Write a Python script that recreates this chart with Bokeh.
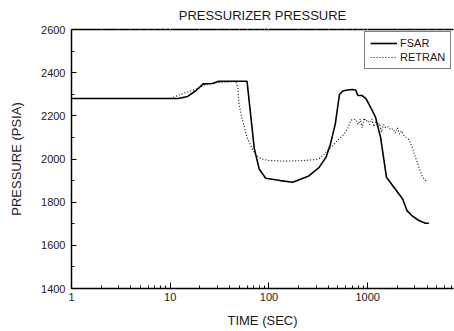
from bokeh.plotting import figure
from bokeh.models import (LogAxis, LogTicker, SingleIntervalTicker, Legend, LegendItem,
                          Range1d, ColumnDataSource, NumeralTickFormatter)
from bokeh.embed import file_html
from bokeh.resources import INLINE

# ---- data ----
fsar_t = [1, 12.1, 15, 18, 21.6, 27, 30.9, 45, 60, 71, 79.6, 92.6, 130, 174, 250, 321,
          380, 420, 470, 518, 560, 620, 700, 755, 795, 880, 960, 1025, 1200, 1350, 1550,
          2260, 2500, 2800, 3300, 3850, 4170]
fsar_p = [2280, 2280, 2290, 2315, 2348, 2350, 2360, 2360, 2360, 2049, 1954, 1911, 1900,
          1892, 1920, 1960, 2010, 2070, 2163, 2299, 2315, 2320, 2322, 2320, 2294, 2294,
          2280, 2256, 2194, 2101, 1915, 1815, 1761, 1738, 1715, 1702, 1702]

retran_t = [1, 10, 11.3, 13.7, 18.7, 22.7, 27.7, 37.8, 45.8, 48.4, 49.7, 53.5, 60, 67.6,
            75, 85, 100, 150, 225, 300, 334, 390, 450, 494, 550, 595, 640, 670, 720, 760,
            800, 840, 880, 920, 960, 1000, 1050, 1100, 1150, 1200, 1260, 1320, 1380, 1450,
            1520, 1600, 1700, 1800, 1900, 2000, 2100, 2200, 2320, 2450, 2600, 2700, 2850,
            3050, 3300, 3600, 4020]
retran_p = [2280, 2280, 2290, 2305, 2325, 2345, 2353, 2356, 2360, 2333, 2256, 2186, 2101,
            2047, 2015, 2000, 1993, 1990, 1993, 1998, 2005, 2039, 2065, 2086, 2105, 2124,
            2150, 2178, 2186, 2180, 2160, 2185, 2145, 2190, 2175, 2180, 2160, 2185, 2150,
            2170, 2155, 2165, 2125, 2160, 2145, 2150, 2135, 2140, 2120, 2145, 2115, 2130,
            2110, 2100, 2090, 2075, 2050, 2008, 1962, 1916, 1892]

x_start, x_end = 1, 7400
y_start, y_end = 1400, 2600

FONT = "Liberation Sans"
TXT = "#1a1a1a"

p = figure(width=454, height=331, x_axis_type="log",
           x_range=Range1d(x_start, x_end), y_range=Range1d(y_start, y_end),
           output_backend="svg", toolbar_location=None,
           min_border_left=71, min_border_right=1, min_border_top=29, min_border_bottom=43,
           title="PRESSURIZER PRESSURE", background_fill_color="white",
           border_fill_color="white")
p.outline_line_color = None
p.grid.visible = False

p.title.align = "center"
p.title.vertical_align = "top"
p.title.text_font = FONT
p.title.text_font_size = "13px"
p.title.text_font_style = "normal"
p.title.text_color = TXT

# bottom axis
xa = p.xaxis[0]
xa.ticker = LogTicker(num_minor_ticks=10)
xa.formatter = NumeralTickFormatter(format="0")
xa.axis_label = "TIME (SEC)"
xa.axis_label_text_font = FONT
xa.axis_label_text_font_size = "13px"
xa.axis_label_text_font_style = "normal"
xa.axis_label_text_color = TXT
xa.axis_label_standoff = 9
xa.major_label_text_font = FONT
xa.major_label_text_font_size = "11px"
xa.major_label_text_color = TXT
xa.major_label_standoff = 4
xa.major_tick_in = 6
xa.major_tick_out = 0
xa.minor_tick_in = 3
xa.minor_tick_out = 0
xa.axis_line_width = 1.5

# left axis
ya = p.yaxis[0]
ya.ticker = SingleIntervalTicker(interval=200, num_minor_ticks=2)
ya.axis_label = "PRESSURE (PSIA)"
ya.axis_label_text_font = FONT
ya.axis_label_text_font_size = "13px"
ya.axis_label_text_font_style = "normal"
ya.axis_label_text_color = TXT
ya.axis_label_standoff = 14
ya.major_label_text_font = FONT
ya.major_label_text_font_size = "11px"
ya.major_label_text_color = TXT
ya.major_label_standoff = 6
ya.major_tick_in = 5
ya.major_tick_out = 0
ya.minor_tick_in = 3
ya.minor_tick_out = 0
ya.axis_line_width = 1.5

# top border axis with faint ticks, no visible labels
top = LogAxis(ticker=LogTicker(num_minor_ticks=10), major_label_text_font_size="1px",
              major_label_text_color=None, axis_label_standoff=0,
              major_tick_in=2, major_tick_out=0, minor_tick_in=1, minor_tick_out=0,
              major_tick_line_color="#aaaaaa", minor_tick_line_color="#aaaaaa",
              axis_line_width=1.5, major_label_standoff=0)
p.add_layout(top, "above")

src_f = ColumnDataSource(dict(t=fsar_t, p=fsar_p))
src_r = ColumnDataSource(dict(t=retran_t, p=retran_p))
rf = p.line("t", "p", source=src_f, line_color="black", line_width=1.6)
rr = p.line("t", "p", source=src_r, line_color="black", line_width=1.1, line_dash="1 2")

legend = Legend(items=[LegendItem(label="FSAR", renderers=[rf]),
                       LegendItem(label="RETRAN", renderers=[rr])],
                location=(293, 219), orientation="vertical")
legend.border_line_color = "black"
legend.border_line_width = 1
legend.background_fill_alpha = 1
legend.label_text_font = FONT
legend.label_text_font_size = "11px"
legend.label_text_color = TXT
legend.label_height = 12
legend.glyph_height = 12
legend.glyph_width = 27
legend.label_standoff = 3
legend.padding = 5
legend.spacing = 2
legend.margin = 0
p.add_layout(legend, "center")

open("out.html", "w").write(file_html(p, INLINE))
